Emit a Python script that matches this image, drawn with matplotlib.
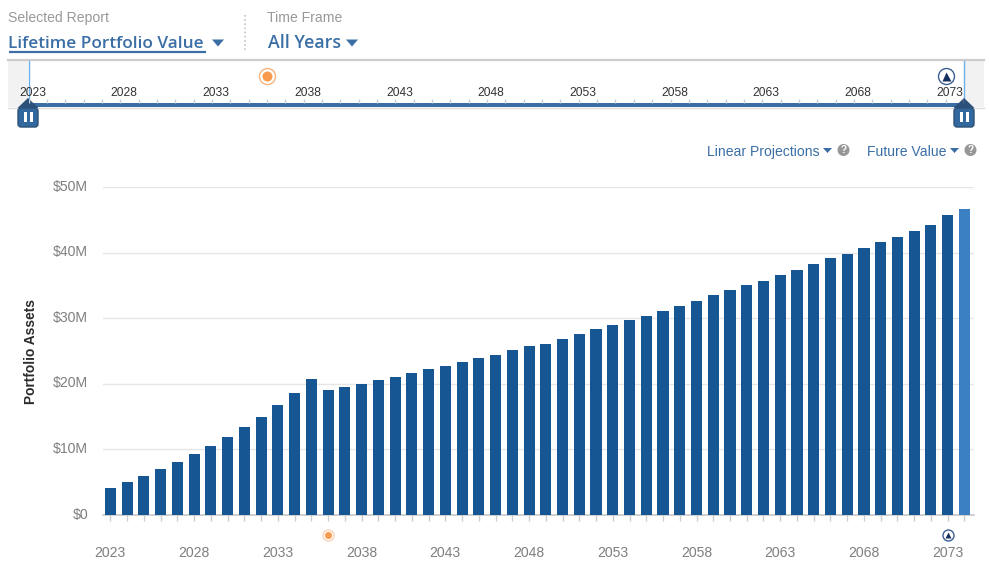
import matplotlib
matplotlib.use('Agg')
import matplotlib.pyplot as plt
from matplotlib.patches import Circle, FancyBboxPatch, Polygon, Rectangle
from matplotlib.transforms import ScaledTranslation

W, H = 989, 573

years = list(range(2023, 2075))
assets = [4.1, 5.0, 5.9, 7.0, 8.1, 9.3, 10.5, 11.9, 13.4, 14.9, 16.8, 18.6, 20.7,
          19.1, 19.5, 20.0, 20.6, 21.0, 21.6, 22.3, 22.7, 23.3, 23.9, 24.4, 25.2,
          25.8, 26.1, 26.8, 27.6, 28.4, 29.0, 29.7, 30.3, 31.1, 31.9, 32.6, 33.5,
          34.3, 35.1, 35.7, 36.6, 37.3, 38.3, 39.2, 39.8, 40.7, 41.6, 42.4, 43.3,
          44.2, 45.7, 46.6]
y_ticks = [0, 10, 20, 30, 40, 50]
y_labels = ['$0', '$10M', '$20M', '$30M', '$40M', '$50M']
year_labels = list(range(2023, 2074, 5))
event_years = [2036, 2073]

BLUE = '#3a6ea5'
BAR = '#165793'
LAST_BAR = '#3a80c3'
GRAY_TEXT = '#999999'
AXIS_TEXT = '#7f7f7f'
ORANGE = '#f79a4b'
NAVY = '#14305f'


def px(size):
    return size * 0.72


def px_axes(fig, left, top, right, bottom, **kw):
    return fig.add_axes([left / W, 1 - bottom / H, (right - left) / W, (bottom - top) / H], **kw)


def goal_icon(ax, x, y, outer, inner, edge, trans):
    ax.plot([x], [y], 'o', ms=px(outer), mfc='white', mec=edge, mew=1, transform=trans, clip_on=False, zorder=5)
    ax.plot([x], [y], 'o', ms=px(inner), mfc=ORANGE, mec='none', transform=trans, clip_on=False, zorder=6)


def end_icon(ax, x, y, outer, tri, trans):
    ax.plot([x], [y], 'o', ms=px(outer), mfc='white', mec='#3c5f93', mew=1, transform=trans, clip_on=False, zorder=5)
    ax.plot([x], [y], '^', ms=px(tri), mfc=NAVY, mec='none', transform=trans, clip_on=False, zorder=6)


def caret(ax, x0, x1, y0, y1):
    ax.add_patch(Polygon([(x0, y0), (x1, y0), ((x0 + x1) / 2, y1)], fc=BLUE, ec='none'))


def help_icon(ax, x, y):
    ax.add_patch(Circle((x, y), 6, fc='#979797', ec='none'))
    ax.text(x, y + 0.3, '?', color='white', fontsize=px(10), fontweight='bold', ha='center', va='center')


def handle(ax, x):
    ax.add_patch(FancyBboxPatch((x - 10, 108), 20, 19, boxstyle='round,pad=0,rounding_size=3',
                                fc='#33689f', ec='#2c5078', lw=1, zorder=8))
    ax.add_patch(Polygon([(x, 98), (x + 10.5, 108), (x - 10.5, 108)], fc='#2c5078', ec='none', zorder=9))
    for dx in (-4.5, 1.5):
        ax.add_patch(Rectangle((x + dx, 112), 3, 10, fc='white', ec='none', zorder=10))


plt.rcParams['font.family'] = ['Liberation Sans', 'DejaVu Sans']
fig = plt.figure(figsize=(W / 100, H / 100), dpi=100, facecolor='white')

# page furniture, in pixels
page = px_axes(fig, 0, 0, W, H)
page.set_xlim(0, W)
page.set_ylim(H, 0)
page.axis('off')

page.text(8, 18, 'Selected Report', color=GRAY_TEXT, fontsize=px(14), va='center')
page.text(8.5, 43.5, 'Lifetime Portfolio Value', color=BLUE, fontsize=px(17.3), va='center',
          family=['Open Sans', 'DejaVu Sans'], fontweight='semibold')
page.plot([9, 206], [52, 52], color=BLUE, lw=1.6, solid_capstyle='butt')
caret(page, 212, 224, 39.5, 46.5)
page.plot([245, 245], [15, 50], color='#c4c4c4', lw=1.2, ls=(0, (1, 1.5)))
page.text(267, 18, 'Time Frame', color=GRAY_TEXT, fontsize=px(14), va='center')
page.text(268, 43.5, 'All Years', color=BLUE, fontsize=px(17.8), va='center',
          family=['Open Sans', 'DejaVu Sans'], fontweight='semibold')
caret(page, 346, 358, 39.5, 46.5)

page.add_patch(Rectangle((8, 61), 20, 46, fc='#f2f2f2', ec='none'))
page.add_patch(Rectangle((964, 61), 20, 46, fc='#f2f2f2', ec='none'))
page.plot([8, 984], [60, 60], color='#cccccc', lw=1.6)
page.plot([8, 984], [107.5, 107.5], color='#dddddd', lw=1)
page.plot([28.5, 28.5], [61, 98], color='#6db1ea', lw=1)
page.plot([963.5, 963.5], [61, 98], color='#6db1ea', lw=1)
page.add_patch(Rectangle((28, 103), 936, 4, fc=BLUE, ec='none'))

page.text(707, 150.2, 'Linear Projections', color=BLUE, fontsize=px(14), va='center_baseline')
page.add_patch(Polygon([(823, 148), (832, 148), (827.5, 153)], fc=BLUE, ec='none'))
help_icon(page, 843.5, 150)
page.text(867, 150.2, 'Future Value', color=BLUE, fontsize=px(14), va='center_baseline')
page.add_patch(Polygon([(950, 148), (959, 148), (954.5, 153)], fc=BLUE, ec='none'))
help_icon(page, 970.5, 150)
page.text(31, 351, 'Portfolio Assets', color='#2b2b2b', fontsize=px(13.8), fontweight='bold',
          rotation=90, ha='center', va='center')

# range slider
slider = px_axes(fig, 28.5, 61, 964, 107)
slider.set_xlim(2023, 2074)
slider.set_ylim(107, 61)
slider.axis('off')
slider.patch.set_alpha(0)
slider.vlines(years, 99, 103, color='#c3d2e0', lw=1)
for yr in year_labels:
    slider.annotate(str(yr), (yr, 93.5), xytext=(px(4), 0), textcoords='offset points', color='#333333',
                    fontsize=px(12), ha='center', va='center', annotation_clip=False, zorder=4)
goal_icon(slider, event_years[0], 76, 16, 10, '#fbb27a', slider.transData)
end_icon(slider, event_years[1], 76, 16, 9, slider.transData)

handle(page, 28)
handle(page, 964)

# main chart
ax = px_axes(fig, 103, 187, 974, 515)
ax.set_xlim(2022.56, 2074.57)
ax.set_ylim(0, 50)
ax.patch.set_alpha(0)
colors = [BAR] * (len(years) - 1) + [LAST_BAR]
ax.bar(years, assets, width=0.66, color=colors, zorder=3)
ax.grid(axis='y', color='#e6e6e6', lw=1, zorder=0)
ax.set_yticks(y_ticks, y_labels)
ax.set_xticks(years)
ax.set_xticklabels([str(y) if y in year_labels else '' for y in years])
ax.tick_params(axis='y', length=0, pad=10.8, labelsize=px(14), labelcolor=AXIS_TEXT)
ax.tick_params(axis='x', length=5.5 * 0.72, width=1, color='#cccccc', pad=18.2, labelsize=px(14), labelcolor=AXIS_TEXT)
for lab in ax.get_yticklabels():
    lab.set_transform(lab.get_transform() + ScaledTranslation(0, 2 / 100, fig.dpi_scale_trans))
for name in ('top', 'left', 'right'):
    ax.spines[name].set_visible(False)
ax.spines['bottom'].set_color('#c8c8c8')
ax.spines['bottom'].set_linewidth(1.2)

# milestone icons under the axis
trans = ax.get_xaxis_transform()
goal_icon(ax, event_years[0], -20 / 328, 11, 7, '#fcd0b2', trans)
end_icon(ax, event_years[1], -20 / 328, 11, 6, trans)

fig.savefig('out.png', dpi=100)
